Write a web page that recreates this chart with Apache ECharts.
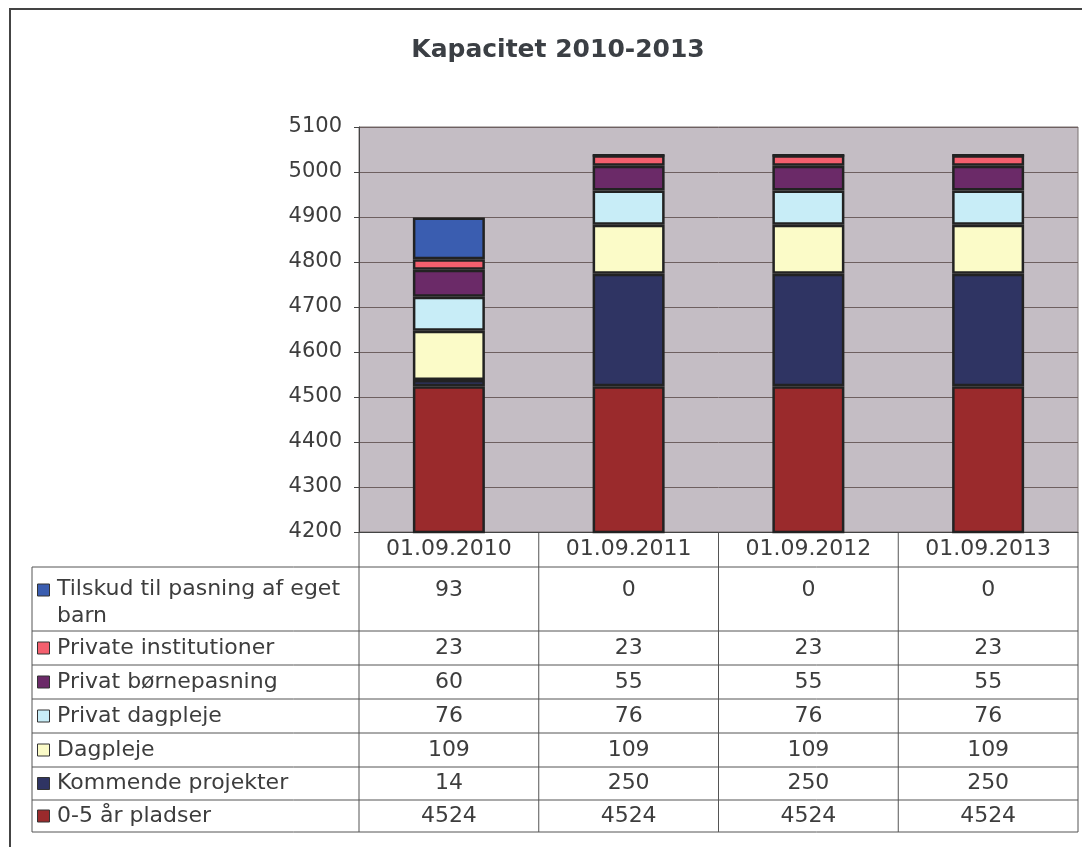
<!DOCTYPE html>
<html>
<head>
<meta charset="utf-8">
<title>Kapacitet 2010-2013</title>
<script src="https://cdn.jsdelivr.net/npm/echarts@6/dist/echarts.min.js"></script>
<style>
  html, body { margin: 0; padding: 0; background: #ffffff; }
  #chart { width: 1082px; height: 847px; }
</style>
</head>
<body>
<div id="chart"></div>
<script>
// Dates on the category axis
const categories = ['01.09.2010', '01.09.2011', '01.09.2012', '01.09.2013'];

// Capacity per type of care (stacked from the bottom up)
const pladser05 = [4524, 4524, 4524, 4524];
const kommendeProjekter = [14, 250, 250, 250];
const dagpleje = [109, 109, 109, 109];
const privatDagpleje = [76, 76, 76, 76];
const privatBoernepasning = [60, 55, 55, 55];
const privateInstitutioner = [23, 23, 23, 23];
const tilskud = [93, 0, 0, 0];

// Value axis range
const yMin = 4200;
const yMax = 5100;
const yStep = 100;

// Series in stacking order, bottom first
const seriesDefs = [
  { name: '0-5 år pladser', data: pladser05, color: '#9a2a2c' },
  { name: 'Kommende projekter', data: kommendeProjekter, color: '#2f3463' },
  { name: 'Dagpleje', data: dagpleje, color: '#fbfbc8' },
  { name: 'Privat dagpleje', data: privatDagpleje, color: '#c8edf7' },
  { name: 'Privat børnepasning', data: privatBoernepasning, color: '#6b2a68' },
  { name: 'Private institutioner', data: privateInstitutioner, color: '#f45f6e' },
  { name: 'Tilskud til pasning af eget\nbarn', data: tilskud, color: '#3a5db0' }
];

const FONT = "'DejaVu Sans', Verdana, sans-serif";
const TEXT = '#3d3d3d';

// Layout of the plot area and data table
const plotLeft = 359, plotRight = 1078, plotTop = 127, plotBottom = 532;
const tableLeft = 32;
const headerBottom = 567;
const rowLines = [567, 631, 665, 699, 733, 767, 800, 832];

const chart = echarts.init(document.getElementById('chart'), null, { renderer: 'canvas' });

const option = {
  backgroundColor: '#ffffff',
  animation: false,
  title: {
    text: 'Kapacitet 2010-2013',
    left: 553,
    top: 33,
    textAlign: 'center',
    textStyle: { fontFamily: FONT, fontSize: 25, fontWeight: 'bold', color: '#3b3f44' }
  },
  grid: {
    left: plotLeft,
    right: 1082 - plotRight,
    top: plotTop,
    bottom: 847 - plotBottom,
    show: true,
    backgroundColor: '#c4bdc4',
    borderColor: '#7a7272',
    borderWidth: 1
  },
  xAxis: {
    type: 'category',
    data: categories,
    axisLine: { show: true, lineStyle: { color: '#444', width: 1 } },
    axisTick: { show: false },
    axisLabel: { show: false },
    splitLine: { show: false }
  },
  yAxis: {
    type: 'value',
    min: yMin,
    max: yMax,
    interval: yStep,
    axisLine: { show: true, lineStyle: { color: '#444', width: 1 } },
    axisTick: { show: true, length: 5, lineStyle: { color: '#444' } },
    axisLabel: { fontFamily: FONT, fontSize: 21, color: TEXT, margin: 17, formatter: v => String(v) },
    splitLine: { show: true, lineStyle: { color: '#6e6060', width: 1 } }
  },
  series: seriesDefs.map(s => ({
    type: 'bar',
    name: s.name,
    stack: 'kapacitet',
    data: s.data,
    barWidth: 72,
    itemStyle: { color: s.color, borderColor: '#222', borderWidth: 2.5 }
  }))
};

chart.setOption(option);

// Data table under the plot, aligned to the category bands
function buildTable() {
  const centers = categories.map((c, i) => chart.convertToPixel({ xAxisIndex: 0 }, i));
  const band = categories.length > 1 ? centers[1] - centers[0] : (plotRight - plotLeft);
  const edges = [plotLeft].concat(centers.map(c => c + band / 2));
  const els = [];
  const lineStyle = { stroke: '#555', lineWidth: 1 };

  // outer frame around the whole chart
  els.push({ type: 'rect', shape: { x: 10, y: 9, width: 1100, height: 900 },
    style: { fill: null, stroke: '#444', lineWidth: 2 }, silent: true });

  // vertical column dividers
  edges.forEach(x => {
    els.push({ type: 'line', shape: { x1: x, y1: plotBottom, x2: x, y2: rowLines[rowLines.length - 1] }, style: lineStyle });
  });
  // left edge of the label column
  els.push({ type: 'line', shape: { x1: tableLeft, y1: headerBottom, x2: tableLeft, y2: rowLines[rowLines.length - 1] }, style: lineStyle });
  // horizontal row lines
  rowLines.forEach(y => {
    els.push({ type: 'line', shape: { x1: tableLeft, y1: y, x2: plotRight, y2: y }, style: lineStyle });
  });

  // header labels
  categories.forEach((c, i) => {
    els.push({ type: 'text', x: centers[i], y: (plotBottom + headerBottom) / 2,
      style: { text: c, fontFamily: FONT, fontSize: 22, fill: TEXT, align: 'center', verticalAlign: 'middle' } });
  });

  // rows, top to bottom: reverse of stacking order
  const rows = seriesDefs.slice().reverse();
  rows.forEach((s, r) => {
    const top = rowLines[r], bottom = rowLines[r + 1];
    const twoLine = s.name.indexOf('\n') >= 0;
    const lineY = twoLine ? top + 23 : (top + bottom) / 2;
    // legend key
    els.push({ type: 'rect', shape: { x: 37.5, y: lineY - 6, width: 12, height: 12 },
      style: { fill: s.color, stroke: '#333', lineWidth: 1 } });
    // row label
    els.push({ type: 'text', x: 57, y: twoLine ? lineY - 14 : lineY,
      style: { text: s.name, fontFamily: FONT, fontSize: 22, fill: TEXT, align: 'left',
        verticalAlign: twoLine ? 'top' : 'middle', lineHeight: 27 } });
    // values
    s.data.forEach((v, i) => {
      els.push({ type: 'text', x: centers[i], y: lineY,
        style: { text: String(v), fontFamily: FONT, fontSize: 22, fill: TEXT, align: 'center', verticalAlign: 'middle' } });
    });
  });

  chart.setOption({ graphic: els });
}

buildTable();
</script>
</body>
</html>
